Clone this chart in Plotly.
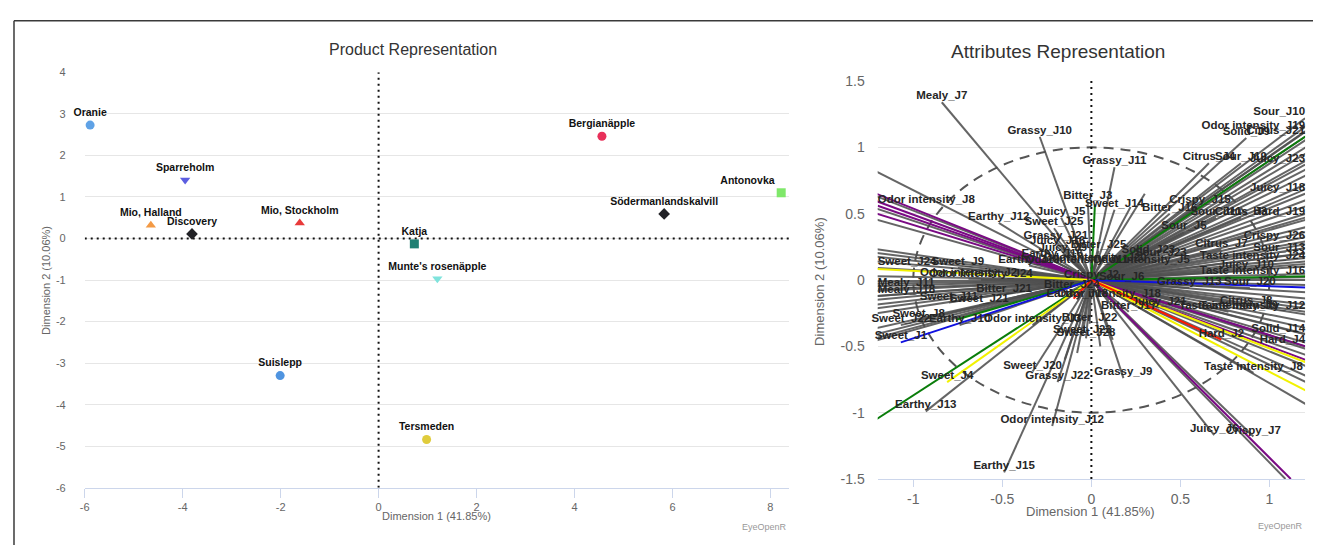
import plotly.graph_objects as go

# The page adds an 8px body margin, so the figure is sized to fill the rest of the window
FW, H_FULL, W_FULL = 1313, 553, 1321
FH = 545
OFF = 8


def px(X):
    return (X - OFF) / FW


def py(Y):
    return 1 - (Y - OFF) / FH


# ---------------- Product representation data ----------------
product_names = ["Oranie", "Sparreholm", "Mio, Halland", "Discovery", "Mio, Stockholm",
                 "Katja", "Munte's rosenäpple", "Bergianäpple", "Antonovka",
                 "Södermanlandskalvill", "Suislepp", "Tersmeden"]
prod_x = [-5.89, -3.95, -4.65, -3.81, -1.61, 0.73, 1.20, 4.56, 8.22, 5.83, -2.01, 0.98]
prod_y = [2.73, 1.41, 0.32, 0.11, 0.37, -0.13, -0.97, 2.46, 1.10, 0.59, -3.30, -4.84]
prod_symbols = ["circle", "triangle-down", "triangle-up", "diamond", "triangle-up",
                "square", "triangle-down", "circle", "square", "diamond", "circle", "circle"]
prod_colors = ["#5fa2e6", "#5c5ee0", "#f39a45", "#222226", "#e83a3a",
               "#1f7f72", "#7fe3dc", "#e8305a", "#7fe86a", "#222226", "#4f94e0", "#e0cc3c"]

x1_ticks = [-6, -4, -2, 0, 2, 4, 6, 8]
y1_ticks = [-6, -5, -4, -3, -2, -1, 0, 1, 2, 3, 4]

# ---------------- Attributes representation data ----------------
attr_names = [
    "Mealy_J7", "Grassy_J10", "Grassy_J11", "Bitter_J3", "Sweet_J14", "Juicy_J5",
    "Sweet_J25", "Earthy_J12", "Grassy_J21", "Juicy_J16", "Juicy_J9", "Earthy_J16",
    "Bitter_J25", "Odor intensity_J20", "Odor intensity_J5", "Solid_J23", "Sour_J23",
    "Earthy_J19", "Odor intensity_J11", "Crispy_J2", "Sour_J6", "Bitter_J24", "Earthy_J18",
    "Sour_J10", "Odor intensity_J19", "Citrus_J21", "Solid_J9", "Citrus_J4", "Sour_J19",
    "Juicy_J23", "Juicy_J18", "Crispy_J15", "Bitter_J16", "Sour_J11", "Hard_J19",
    "Citrus_J3", "Sour_J5", "Crispy_J26", "Citrus_J7", "Sour_J13", "Taste intensity_J24",
    "Juicy_J10", "Taste intensity_J16", "Grassy_J13", "Sour_J20", "Odor intensity_J18",
    "Juicy_J21", "Bitter_J17", "Taste intensity_J9", "Citrus_J8", "Taste intensity_J12",
    "Solid_J14", "Hard_J4", "Hard_J2", "Taste intensity_J8", "Juicy_J6", "Crispy_J7",
    "Grassy_J9", "Odor intensity_J12", "Earthy_J15", "Sweet_J20", "Grassy_J22", "Sweet_J4",
    "Earthy_J13", "Sweet_J1", "Sweet_J8", "Sweet_J22", "Earthy_J10", "Odor intensity_J3",
    "Bitter_J22", "Sweet_J28", "Sweet_J23", "Sweet_J11", "Bitter_J21", "Sweet_J21",
    "Mealy_J11", "Mealy_J18", "Sweet_J24", "Sweet_J9", "Odor intensity_J2",
    "Odor intensity_J24", "Odor intensity_J8",
]
attr_x = [
    -0.84, -0.29, 0.13, -0.02, 0.13, -0.17,
    -0.21, -0.52, -0.20, -0.19, -0.16, -0.22,
    0.04, 0.02, 0.28, 0.32, 0.39,
    -0.35, -0.08, 0.00, 0.17, -0.11, -0.08,
    1.20, 1.20, 1.20, 0.87, 0.66, 0.84,
    1.20, 1.20, 0.61, 0.44, 0.70, 1.20,
    0.84, 0.52, 1.20, 0.73, 1.20, 1.20,
    0.87, 1.20, 0.55, 0.89, 0.10,
    0.38, 0.21, 0.77, 0.87, 1.20,
    1.20, 1.20, 0.73, 0.91, 0.69, 0.91,
    0.18, -0.22, -0.49, -0.33, -0.19, -0.81,
    -0.93, -1.07, -0.97, -1.07, -0.74, -0.33,
    -0.01, -0.03, -0.05, -0.80, -0.49, -0.63,
    -1.20, -1.20, -1.20, -0.75, -0.69,
    -0.62, -1.20,
]
attr_y = [
    1.34, 1.08, 0.85, 0.59, 0.53, 0.47,
    0.39, 0.43, 0.29, 0.25, 0.20, 0.15,
    0.22, 0.12, 0.11, 0.18, 0.16,
    0.11, 0.11, -0.01, -0.02, -0.08, -0.15,
    1.22, 1.12, 1.08, 1.07, 0.88, 0.88,
    0.87, 0.65, 0.56, 0.50, 0.47, 0.47,
    0.47, 0.36, 0.29, 0.23, 0.20, 0.14,
    0.07, 0.02, -0.06, -0.06, -0.15,
    -0.21, -0.24, -0.24, -0.20, -0.24,
    -0.41, -0.50, -0.45, -0.70, -1.17, -1.18,
    -0.74, -1.10, -1.45, -0.69, -0.77, -0.77,
    -0.99, -0.47, -0.30, -0.34, -0.34, -0.34,
    -0.33, -0.44, -0.42, -0.17, -0.11, -0.19,
    -0.07, -0.12, 0.09, 0.09, 0.01,
    0.00, 0.56,
]
attr_color = ["gray"] * len(attr_names)
attr_color[attr_names.index("Hard_J2")] = "red"
attr_color[attr_names.index("Sweet_J4")] = "yellow"
attr_color[attr_names.index("Sweet_J1")] = "blue"
attr_color[attr_names.index("Odor intensity_J8")] = "purple"

# unlabeled vectors (endpoints beyond the visible range are clipped by the axes)
ray_x = [-1.3, -1.3, -1.3, -1.3, -1.3, -1.3, -1.3,
         -1.3, -1.3, -1.3, -1.3, -1.3, -1.3, -1.3, -1.3, -1.3, -1.3, -1.3,
         -1.3, -1.3, -1.3, -1.3, -1.3, -1.3, -1.3, -1.3, -1.3, -0.76,
         1.3, 1.3, 1.3, 1.3, 1.3, 1.3, 1.3, 1.3, 1.3, 1.3, 1.3, 1.3,
         1.3, 1.3, 1.3, 1.3, 1.3, 1.3, 1.3, 1.3, 1.3, 1.3, 1.3, 1.3,
         1.3, 1.3, 1.3, 1.3, 1.3, 1.3, 1.3, 1.3, 1.3, 1.3, 1.3, 1.3,
         1.3, 1.3, 1.3, 1.3, 1.3, 1.3, 1.3, 1.3, 1.3, 1.3, 1.3, 1.3,
         1.12, 1.09, -0.10, 0.02, -0.08, 0.05, 0.12, -0.15, 0.30, 0.22]
ray_y = [0.88, 0.70, 0.68, 0.64, 0.58, 0.54, 0.49,
         0.25, 0.22, 0.19, 0.15, 0.09, 0.03, -0.01, -0.03, -0.05, -0.09, -0.13,
         -0.16, -0.20, -0.23, -0.27, -0.39, -0.44, -0.47, -0.49, -1.13, -0.30,
         1.25, 1.21, 1.17, 1.14, 1.08, 1.03, 0.97, 0.90, 0.85, 0.78, 0.74, 0.65,
         0.60, 0.54, 0.49, 0.43, 0.39, 0.35, 0.29, 0.26, 0.22, 0.18, 0.13, 0.11,
         0.05, 0.03, 0.00, -0.04, -0.06, -0.10, -0.15, -0.20, -0.23, -0.28, -0.34, -0.39,
         -0.44, -0.51, -0.54, -0.56, -0.61, -0.65, -0.67, -0.70, -0.78, -0.83, -0.90, -1.01,
         -1.50, -1.50, -0.14, 0.57, -0.55, -0.50, -0.45, -0.60, 0.65, 0.55]
ray_color = ["gray", "purple", "gray", "purple", "gray", "purple", "gray",
             "gray", "gray", "gray", "gray", "yellow", "gray", "gray", "gray", "gray", "gray", "gray",
             "gray", "gray", "gray", "gray", "gray", "gray", "gray", "gray", "green", "green",
             "gray", "gray", "green", "gray", "gray", "gray", "gray", "gray", "gray", "gray", "gray", "gray",
             "gray", "gray", "gray", "gray", "gray", "gray", "gray", "gray", "gray", "gray", "gray", "gray",
             "gray", "green", "gray", "gray", "blue", "gray", "gray", "gray", "gray", "gray", "gray", "gray",
             "gray", "gray", "purple", "gray", "gray", "purple", "yellow", "gray", "gray", "gray", "yellow", "gray",
             "purple", "gray", "red", "green", "gray", "gray", "gray", "gray", "gray", "gray"]

x2_ticks = [-1, -0.5, 0, 0.5, 1]
x2_text = ["-1", "-0.5", "0", "0.5", "1"]
y2_ticks = [-1.5, -1, -0.5, 0, 0.5, 1, 1.5]
y2_text = ["-1.5", "-1", "-0.5", "0", "0.5", "1", "1.5"]

COLORS = {"gray": "rgba(80,80,80,0.88)", "purple": "#7a0a84", "green": "#0a7d0a",
          "yellow": "#f2f200", "blue": "#1010e0", "red": "#ff1800"}

FONT = "Liberation Sans, Arial, sans-serif"

fig = go.Figure()

# ---- left panel: products
fig.add_trace(go.Scatter(
    x=prod_x, y=prod_y, mode="markers+text", text=product_names,
    textposition=["top left" if n == "Antonovka" else "top center" for n in product_names],
    textfont=dict(family=FONT, size=10.5, color="#111", weight="bold"),
    marker=dict(symbol=prod_symbols, color=prod_colors, size=9, line=dict(width=0)),
    cliponaxis=False, xaxis="x", yaxis="y", hoverinfo="text", showlegend=False))

# ---- right panel: vectors
all_x = attr_x + ray_x
all_y = attr_y + ray_y
all_c = attr_color + ray_color
for cname in ["gray", "purple", "green", "yellow", "blue", "red"]:
    lx, ly = [], []
    for xv, yv, cv in zip(all_x, all_y, all_c):
        if cv == cname:
            lx += [0, xv, None]
            ly += [0, yv, None]
    if lx:
        fig.add_trace(go.Scatter(x=lx, y=ly, mode="lines",
                                 line=dict(color=COLORS[cname], width=2),
                                 xaxis="x2", yaxis="y2", hoverinfo="skip", showlegend=False))

attr_pos = ["top left" if xv >= 1.19 else ("top right" if xv <= -1.19 else "top center")
            for xv in attr_x]
fig.add_trace(go.Scatter(
    x=attr_x, y=attr_y, mode="text", text=attr_names, textposition=attr_pos,
    textfont=dict(family=FONT, size=11.5, color="#262626", weight="bold"),
    cliponaxis=False, xaxis="x2", yaxis="y2", hoverinfo="text", showlegend=False))

axis_font = dict(family=FONT, size=11, color="#666")
axis_font2 = dict(family=FONT, size=14, color="#666")

fig.update_layout(
    width=FW, height=FH,
    margin=dict(l=0, r=0, t=0, b=0),
    paper_bgcolor="white", plot_bgcolor="white",
    showlegend=False,
    xaxis=dict(domain=[px(80), px(787)], range=[-6, 8.38], anchor="y",
               tickvals=x1_ticks, ticktext=[str(v) for v in x1_ticks],
               showgrid=False, zeroline=False, showline=True, linecolor="#ccd6eb", linewidth=1,
               ticks="outside", ticklen=9, tickcolor="#ccd6eb", tickfont=axis_font),
    yaxis=dict(domain=[py(494), py(66)], range=[-6, 4], anchor="x",
               tickvals=y1_ticks, ticktext=[str(v) for v in y1_ticks],
               showgrid=True, gridcolor="#e6e6e6", zeroline=False, showline=False,
               ticks="", tickfont=axis_font, ticklabelstandoff=18),
    xaxis2=dict(domain=[px(876), px(1305)], range=[-1.2, 1.2], anchor="y2",
                tickvals=x2_ticks, ticktext=x2_text,
                showgrid=False, zeroline=False, showline=True, linecolor="#ccd6eb", linewidth=1,
                ticks="outside", ticklen=7, tickcolor="#ccd6eb", tickfont=axis_font2),
    yaxis2=dict(domain=[py(485), py(75)], range=[-1.5, 1.5], anchor="x2",
                tickvals=y2_ticks, ticktext=y2_text,
                showgrid=True, gridcolor="#e6e6e6", zeroline=False, showline=False,
                ticks="", tickfont=axis_font2, ticklabelstandoff=12),
)

shapes = [
    # outer frame
    dict(type="line", xref="paper", yref="paper", x0=px(9), x1=1.0, y0=py(13), y1=py(13),
         line=dict(color="#3a3a3a", width=1.5)),
    dict(type="line", xref="paper", yref="paper", x0=px(9), x1=px(9), y0=0, y1=py(13),
         line=dict(color="#3a3a3a", width=1.5)),
    # left zero lines
    dict(type="line", xref="x", yref="y", x0=0, x1=0, y0=-6, y1=4, layer="between",
         line=dict(color="#111", width=2, dash="2px,4px")),
    dict(type="line", xref="x", yref="y", x0=-6, x1=8.38, y0=0, y1=0, layer="between",
         line=dict(color="#111", width=2, dash="2px,4px")),
    # right: unit circle and zero line
    dict(type="circle", xref="x2", yref="y2", x0=-1, x1=1, y0=-1, y1=1, layer="between",
         line=dict(color="#555", width=2, dash="10px,7px")),
    dict(type="line", xref="x2", yref="y2", x0=0, x1=0, y0=-1.5, y1=1.5, layer="between",
         line=dict(color="#111", width=2, dash="2px,4px")),
]
fig.update_layout(shapes=shapes)

ann = [
    dict(text="Product Representation", x=px(410), y=py(42),
         font=dict(family=FONT, size=16, color="#333")),
    dict(text="Attributes Representation", x=px(1057), y=py(45),
         font=dict(family=FONT, size=19, color="#333")),
    dict(text="Dimension 1 (41.85%)", x=px(433), y=py(523),
         font=dict(family=FONT, size=11, color="#666")),
    dict(text="Dimension 2 (10.06%)", x=px(41), y=py(280), textangle=-90,
         font=dict(family=FONT, size=11, color="#666")),
    dict(text="Dimension 1 (41.85%)", x=px(1090), y=py(519),
         font=dict(family=FONT, size=13, color="#666")),
    dict(text="Dimension 2 (10.06%)", x=px(818), y=py(281), textangle=-90,
         font=dict(family=FONT, size=13, color="#666")),
]
anns = []
for a in ann:
    a.update(xref="paper", yref="paper", showarrow=False, xanchor="center", yanchor="middle")
    anns.append(a)
for xr, yr in [(787, 534), (1305, 533)]:
    anns.append(dict(text="EyeOpenR", xref="paper", yref="paper", x=px(xr), y=py(yr),
                     xanchor="right", yanchor="middle", showarrow=False,
                     font=dict(family=FONT, size=9, color="#999")))
fig.update_layout(annotations=anns)

fig.write_html("out.html")
